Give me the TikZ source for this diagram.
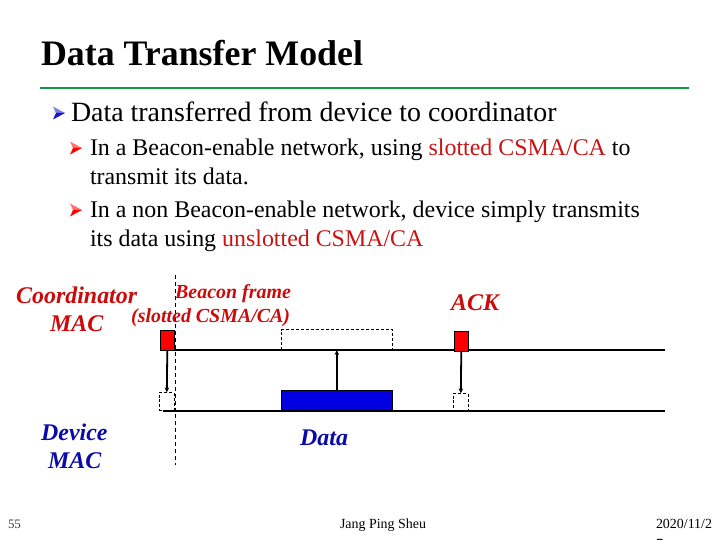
\documentclass[tikz,border=0pt]{standalone}
\usepackage{fontspec}
\setmainfont{Liberation Serif}
\usetikzlibrary{arrows.meta}
\definecolor{titlegreen}{RGB}{20,150,70}
\definecolor{txtred}{RGB}{200,20,20}
\definecolor{lblred}{RGB}{205,10,10}
\definecolor{lblblue}{RGB}{10,10,170}
\definecolor{boxred}{RGB}{250,0,0}
\definecolor{boxblue}{RGB}{0,0,225}
\definecolor{bulblue}{RGB}{20,20,200}
\tikzset{
  txt/.style={anchor=base west, inner sep=0pt, outer sep=0pt},
  lbl/.style={anchor=base west, inner sep=0pt, font=\fontsize{24}{28}\selectfont\bfseries\itshape},
  timeline/.style={line width=1.3pt},
  frameR/.style={draw=black, fill=boxred, line width=0.6pt},
  frameB/.style={draw=black, fill=boxblue, line width=0.6pt},
  ghost/.style={draw=black, dashed, dash pattern=on 3pt off 2pt, line width=0.6pt},
  sig/.style={line width=1.8pt, -{Stealth[length=5pt,width=4.5pt]}},
}
\newcommand{\arrbullet}[3]{% x,y,colour (y = centre)
  \fill[#3!55!white] (#1,#2) -- (#1+12,#2) -- (#1,#2-6.5) -- (#1+3,#2) -- cycle;
  \fill[#3] (#1,#2+6.5) -- (#1+12,#2) -- (#1+3,#2) -- cycle;
}
\begin{document}
\begin{tikzpicture}[x=1bp,y=-1bp]
\useasboundingbox (0,0) rectangle (720,540);
\clip (0,0) rectangle (720,540);
\fill[white] (0,0) rectangle (720,540);
% title
\node[txt, font=\fontsize{36}{40}\selectfont\bfseries] (title) at (41,66) {Data Transfer Model};
\draw[titlegreen, line width=3pt] (40,88) -- (689,88);
% bullets
\arrbullet{53}{113}{bulblue}
\node[txt, font=\fontsize{28}{32}\selectfont] (b1) at (71,122) {Data transferred from device to coordinator};
\arrbullet{70}{148}{red}
\node[txt, font=\fontsize{24}{28}\selectfont] (b2) at (90,156) {In a Beacon-enable network, using \textcolor{txtred}{slotted CSMA/CA} to};
\node[txt, font=\fontsize{24}{28}\selectfont] (b2b) at (90,185) {transmit its data.};
\arrbullet{70}{210}{red}
\node[txt, font=\fontsize{24}{28}\selectfont] (b3) at (90,218) {In a non Beacon-enable network, device simply transmits};
\node[txt, font=\fontsize{24}{28}\selectfont] (b3b) at (90,247) {its data using \textcolor{txtred}{unslotted CSMA/CA}};
% diagram
\coordinate (cL) at (163,350); \coordinate (cR) at (665,350);
\coordinate (dL) at (163,411); \coordinate (dR) at (665,411);
\draw[timeline] (cL) -- (cR);
\draw[timeline] (dL) -- (dR);
\coordinate (vt) at (175,275); \coordinate (vb) at (175,465);
\draw[dashed, dash pattern=on 4pt off 3pt, line width=0.6pt] (vt) -- (vb);
% beacon
\node[frameR, minimum width=14bp, minimum height=20bp, inner sep=0pt, anchor=south west] (bcn) at (160,351) {};
\node[ghost, minimum width=15bp, minimum height=18bp, inner sep=0pt, anchor=south west] (bcnd) at (159,411) {};
\draw[sig] (bcn.south) -- (bcnd.north);
% data
\node[ghost, minimum width=111bp, minimum height=20bp, inner sep=0pt, anchor=south west] (datac) at (281,350) {};
\node[frameB, minimum width=111bp, minimum height=20bp, inner sep=0pt, anchor=south west] (datad) at (281,410.5) {};
\draw[sig] (datad.north) -- (datac.south);
% ack
\node[frameR, minimum width=14bp, minimum height=20bp, inner sep=0pt, anchor=south west] (ack) at (454,352) {};
\node[ghost, minimum width=15bp, minimum height=18bp, inner sep=0pt, anchor=south west] (ackd) at (453,412) {};
\draw[sig] (ack.south) -- (ackd.north);
% labels
\node[lbl, lblred] (lc1) at (16,303) {Coordinator};
\node[lbl, lblred] (lc2) at (50,331) {MAC};
\node[lbl, lblred, font=\fontsize{20}{22}\selectfont\bfseries\itshape] (lb1) at (175,298) {Beacon frame};
\node[lbl, lblred, font=\fontsize{20}{22}\selectfont\bfseries\itshape] (lb2) at (131,322) {(slotted CSMA/CA)};
\node[lbl, lblred] (lack) at (451,310) {ACK};
\node[lbl, lblblue] (ld1) at (41,440) {Device};
\node[lbl, lblblue] (ld2) at (48,468) {MAC};
\node[lbl, lblblue] (ldata) at (300,445) {Data};
% footer
\node[txt, font=\fontsize{13}{15}\selectfont, text=black!75] (pg) at (8,528) {55};
\node[txt, font=\fontsize{14}{16}\selectfont] (auth) at (340,528) {Jang Ping Sheu};
\node[txt, font=\fontsize{14}{16}\selectfont] (dt1) at (656,528) {2020/11/2};
\node[txt, font=\fontsize{14}{16}\selectfont] (dt2) at (656,548) {7};
\end{tikzpicture}
\end{document}
